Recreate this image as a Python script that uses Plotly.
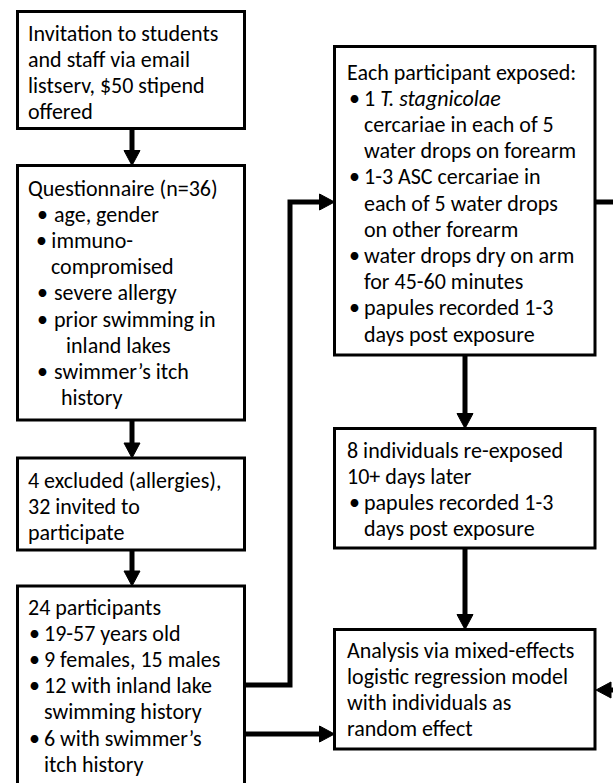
import plotly.graph_objects as go

# ---------------- content (text of each box) ----------------
INVITE_LINES = ["Invitation to students", "and staff via email",
                "listserv, $50 stipend", "offered"]
QUESTIONNAIRE_LINES = ["Questionnaire (n=36)", "• age, gender", "• immuno-",
                       "  compromised", "• severe allergy", "• prior swimming in",
                       "  inland lakes", "• swimmer’s itch", "  history"]
EXCLUDED_LINES = ["4 excluded (allergies),", "32 invited to", "participate"]
PARTICIPANT_LINES = ["24 participants", "• 19-57 years old", "• 9 females, 15 males",
                     "• 12 with inland lake", "  swimming history",
                     "• 6 with swimmer’s", "  itch history"]
EXPOSURE_LINES = ["Each participant exposed:", "• 1 <i>T. stagnicolae</i>",
                  "  cercariae in each of 5", "  water drops on forearm",
                  "• 1-3 ASC cercariae in", "  each of 5 water drops",
                  "  on other forearm", "• water drops dry on arm",
                  "  for 45-60 minutes", "• papules recorded 1-3",
                  "  days post exposure"]
REEXPOSED_LINES = ["8 individuals re-exposed", "10+ days later",
                   "• papules recorded 1-3", "  days post exposure"]
ANALYSIS_LINES = ["Analysis via mixed-effects", "logistic regression model",
                  "with individuals as", "random effect"]

BOX_LINES = {
    "invite": INVITE_LINES,
    "questionnaire": QUESTIONNAIRE_LINES,
    "excluded": EXCLUDED_LINES,
    "participants": PARTICIPANT_LINES,
    "exposure": EXPOSURE_LINES,
    "reexposed": REEXPOSED_LINES,
    "analysis": ANALYSIS_LINES,
}

# ---------------- layout (geometry, styles) ----------------
W, H = 613, 783
LINE_H = 26.2
FONT = dict(family="Carlito, Lato, 'Open Sans', sans-serif", size=22, color="black")
PAD = 3  # annotation inner padding compensation

# x0, y0, x1, y1, first line centre, text x, bullet x, bulleted-text x
GEOM = {
    "invite":        (17.5, 11.5, 244.5, 128.5, 33, 29, 30, 45),
    "questionnaire": (17.5, 165.5, 244.5, 420, 188, 29, 38, 55),
    "excluded":      (17.5, 458, 244.5, 550, 480, 29, 30, 45),
    "participants":  (17.5, 586, 244.5, 800, 607, 29, 30, 45),
    "exposure":      (334.5, 46.5, 595, 355, 72, 348, 350, 365),
    "reexposed":     (334.5, 428.5, 595, 548, 450, 348, 350, 365),
    "analysis":      (334.5, 629.5, 595, 749, 650, 348, 350, 365),
}
# small irregular indents seen in the questionnaire box
EXTRA_X = {("questionnaire", 2): (-1, 0), ("questionnaire", 3): (0, -3),
           ("questionnaire", 6): (0, 12), ("questionnaire", 8): (0, 7)}
# bullet set tight against its text (single text run)
TIGHT_BULLET = {("questionnaire", 2)}

# connector polylines (last point gets an arrowhead if flagged)
CONNECTORS = [
    ([(132, 128.5), (132, 165.5)], True),
    ([(132, 420), (132, 458)], True),
    ([(132, 550), (132, 586)], True),
    ([(244.5, 685), (290, 685), (290, 202), (334.5, 202)], True),
    ([(244.5, 734), (334.5, 734)], True),
    ([(465, 355), (465, 428.5)], True),
    ([(465, 548), (465, 629.5)], True),
    ([(595, 202), (650, 202), (650, 690), (596, 690)], True),
]
HEAD_LEN, HEAD_HALF = 15, 8

shapes = []
annotations = []


def add_text(x, y, text):
    annotations.append(dict(x=x - PAD, y=y, text=text, showarrow=False,
                            xanchor="left", yanchor="middle", font=FONT))


for key, lines in BOX_LINES.items():
    x0, y0, x1, y1, ly, tx, bx, btx = GEOM[key]
    shapes.append(dict(type="rect", xref="x", yref="y", x0=x0, y0=y0, x1=x1, y1=y1,
                       line=dict(color="black", width=3), fillcolor="white", layer="below"))
    for i, line in enumerate(lines):
        y = ly + i * LINE_H
        dbx, dtx = EXTRA_X.get((key, i), (0, 0))
        if line.startswith("• ") and (key, i) in TIGHT_BULLET:
            add_text(bx + dbx, y, "•\u2009" + line[2:])
        elif line.startswith("• "):
            add_text(bx + dbx, y, "•")
            add_text(btx + dtx, y, line[2:])
        elif line.startswith("  "):
            add_text(btx + dtx, y, line[2:])
        else:
            add_text(tx + dtx, y, line)

for pts, arrow in CONNECTORS:
    pts = list(pts)
    if arrow:
        (xa, ya), (xb, yb) = pts[-2], pts[-1]
        dx, dy = xb - xa, yb - ya
        n = (dx * dx + dy * dy) ** 0.5
        ux, uy = dx / n, dy / n
        bxp, byp = xb - ux * HEAD_LEN, yb - uy * HEAD_LEN
        px, py = -uy, ux
        tri = (f"M {xb},{yb} L {bxp + px * HEAD_HALF},{byp + py * HEAD_HALF} "
               f"L {bxp - px * HEAD_HALF},{byp - py * HEAD_HALF} Z")
        shapes.append(dict(type="path", xref="x", yref="y", path=tri,
                           fillcolor="black", line=dict(color="black", width=1)))
        pts[-1] = (bxp + ux * 1, byp + uy * 1)
    path = "M " + " L ".join(f"{x},{y}" for x, y in pts)
    shapes.append(dict(type="path", xref="x", yref="y", path=path,
                       line=dict(color="black", width=5)))

fig = go.Figure()
fig.add_trace(go.Scatter(x=[0, W], y=[0, H], mode="markers",
                         marker=dict(opacity=0), hoverinfo="skip", showlegend=False))
fig.update_layout(
    width=W, height=H, margin=dict(l=0, r=0, t=0, b=0),
    paper_bgcolor="white", plot_bgcolor="white",
    xaxis=dict(range=[0, W], visible=False, fixedrange=True),
    yaxis=dict(range=[H, 0], visible=False, fixedrange=True),
    shapes=shapes, annotations=annotations, showlegend=False,
)
fig.write_html("out.html", config={"displayModeBar": False},
               post_script="document.body.style.margin='0';document.body.style.padding='0';")
